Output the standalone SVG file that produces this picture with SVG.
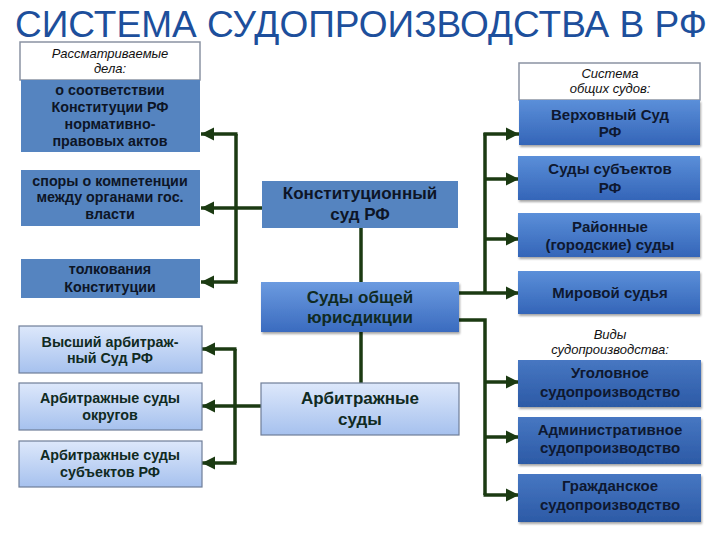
<svg xmlns="http://www.w3.org/2000/svg" width="720" height="540" viewBox="0 0 720 540">
<defs>
<style>
.t{font-family:"Liberation Sans","Open Sans",sans-serif;text-anchor:middle;font-weight:bold}
.flat{fill:#5584c0}
.dk{fill:#0d1526;font-size:14.3px}
.big{font-size:17px}
.gen{fill:#102a22}
.rt{fill:#0e1830;font-size:15px}
.it{font-style:italic;font-weight:normal;fill:#111;font-size:13px}
.wbox{fill:#fff;stroke:#8a93a3;stroke-width:1.5}
.conn path{fill:none;stroke:#1b3a12;stroke-width:3.5}
.conn .a{marker-end:url(#ah)}
</style>
<linearGradient id="gBlue" x1="0" y1="0" x2="0" y2="1"><stop offset="0" stop-color="#6c9be0"/><stop offset="1" stop-color="#3a6bbf"/></linearGradient>
<linearGradient id="gDark" x1="0" y1="0" x2="0" y2="1"><stop offset="0" stop-color="#4777c2"/><stop offset="1" stop-color="#2c5aa6"/></linearGradient>
<linearGradient id="gMid" x1="0" y1="0" x2="0" y2="1"><stop offset="0" stop-color="#5b8fd9"/><stop offset="1" stop-color="#3465b8"/></linearGradient>
<linearGradient id="gLight" x1="0" y1="0" x2="0" y2="1"><stop offset="0" stop-color="#dde8fb"/><stop offset="1" stop-color="#a6c1ee"/></linearGradient>
<marker id="ah" viewBox="0 0 10 10" refX="10" refY="5" markerWidth="13" markerHeight="14" markerUnits="userSpaceOnUse" orient="auto"><path d="M0,0 L10,5 L0,10 z" fill="#1b3a12"/></marker>
<filter id="sh" x="-5%" y="-10%" width="110%" height="130%"><feDropShadow dx="1" dy="2" stdDeviation="1.2" flood-color="#000" flood-opacity="0.35"/></filter>
</defs>
<rect width="720" height="540" fill="#fff"/>
<text x="361" y="37" font-family="'Liberation Sans','Open Sans',sans-serif" font-size="37" fill="#1d4f9c" text-anchor="middle" textLength="692" lengthAdjust="spacingAndGlyphs">СИСТЕМА СУДОПРОИЗВОДСТВА В РФ</text>

<g class="conn">
<path d="M236,282 V134"/>
<path class="a" d="M237.5,134 H201"/>
<path class="a" d="M262,208 H201"/>
<path class="a" d="M237.5,282 H201"/>
<path d="M361,228 V282"/>
<path d="M361,332 V383"/>
<path d="M485,133 V293"/>
<path class="a" d="M483.5,134 H519"/>
<path class="a" d="M485,179 H519"/>
<path class="a" d="M485,239 H519"/>
<path class="a" d="M459,293 H519"/>
<path d="M459,320 H485 V495"/>
<path class="a" d="M485,382 H519"/>
<path class="a" d="M485,437 H519"/>
<path class="a" d="M483.5,495 H519"/>
<path d="M235,349 V463"/>
<path class="a" d="M236.5,349 H202"/>
<path class="a" d="M261,406 H202"/>
<path class="a" d="M236.5,463 H202"/>
</g>

<g id="cases-header"><rect class="wbox" x="20" y="42" width="180" height="38"/>
<text class="t it" x="110" y="58">Рассматриваемые</text><text class="t it" x="110" y="73">дела:</text></g>
<g id="case1"><rect class="flat" x="21" y="80" width="179" height="72"/>
<text class="t dk" x="110" y="95">о соответствии</text><text class="t dk" x="110" y="112">Конституции РФ</text><text class="t dk" x="110" y="129">нормативно-</text><text class="t dk" x="110" y="146">правовых актов</text></g>
<g id="case2"><rect class="flat" x="21" y="170" width="179" height="56"/>
<text class="t dk" x="110" y="186">споры о компетенции</text><text class="t dk" x="110" y="202">между органами гос.</text><text class="t dk" x="110" y="219">власти</text></g>
<g id="case3"><rect class="flat" x="21" y="259" width="179" height="39"/>
<text class="t dk" x="110" y="274">толкования</text><text class="t dk" x="110" y="292">Конституции</text></g>

<g id="const-court"><rect class="flat" x="262" y="181" width="196" height="47"/>
<text class="t dk big" x="360" y="199">Конституционный</text><text class="t dk big" x="360" y="220">суд РФ</text></g>
<g id="general-courts"><rect x="261" y="282" width="198" height="50" fill="url(#gBlue)" filter="url(#sh)"/>
<text class="t gen big" x="360" y="303">Суды общей</text><text class="t gen big" x="360" y="323">юрисдикции</text></g>
<g id="arb-courts"><rect x="261" y="383" width="198" height="52" fill="url(#gLight)" stroke="#6f7e98" stroke-width="1.2"/>
<text class="t gen big" x="360" y="404">Арбитражные</text><text class="t gen big" x="360" y="425">суды</text></g>

<g id="arb1"><rect x="19" y="326" width="183" height="47" fill="url(#gLight)" stroke="#6f7e98" stroke-width="1.2"/>
<text class="t gen" font-size="14.3" x="110" y="347">Высший арбитраж-</text><text class="t gen" font-size="14.3" x="110" y="363">ный Суд РФ</text></g>
<g id="arb2"><rect x="19" y="383" width="183" height="47" fill="url(#gLight)" stroke="#6f7e98" stroke-width="1.2"/>
<text class="t gen" font-size="14.3" x="110" y="403">Арбитражные суды</text><text class="t gen" font-size="14.3" x="110" y="420">округов</text></g>
<g id="arb3"><rect x="19" y="441" width="183" height="46" fill="url(#gLight)" stroke="#6f7e98" stroke-width="1.2"/>
<text class="t gen" font-size="14.3" x="110" y="460">Арбитражные суды</text><text class="t gen" font-size="14.3" x="110" y="477">субъектов РФ</text></g>

<g id="gen-header"><rect class="wbox" x="519" y="63" width="181" height="37"/>
<text class="t it" x="610" y="78">Система</text><text class="t it" x="610" y="93">общих судов:</text></g>
<g id="supreme"><rect x="519" y="100" width="181" height="45" fill="url(#gMid)" filter="url(#sh)"/>
<text class="t rt" x="610" y="120">Верховный Суд</text><text class="t rt" x="610" y="137">РФ</text></g>
<g id="subject-courts"><rect x="518" y="156" width="182" height="44" fill="url(#gMid)" filter="url(#sh)"/>
<text class="t rt" x="610" y="174">Суды субъектов</text><text class="t rt" x="610" y="193">РФ</text></g>
<g id="district-courts"><rect x="518" y="213" width="182" height="44" fill="url(#gMid)" filter="url(#sh)"/>
<text class="t rt" x="610" y="232">Районные</text><text class="t rt" x="610" y="250">(городские) суды</text></g>
<g id="magistrate"><rect x="518" y="271" width="182" height="43" fill="url(#gMid)" filter="url(#sh)"/>
<text class="t rt" x="610" y="298">Мировой судья</text></g>

<g id="proc-header"><text class="t it" x="610" y="339">Виды</text><text class="t it" x="610" y="354">судопроизводства:</text></g>
<g id="criminal"><rect x="518" y="360" width="183" height="47" fill="url(#gDark)" filter="url(#sh)"/>
<text class="t rt" x="610" y="378">Уголовное</text><text class="t rt" x="610" y="397">судопроизводство</text></g>
<g id="admin"><rect x="518" y="417" width="183" height="47" fill="url(#gDark)" filter="url(#sh)"/>
<text class="t rt" x="610" y="435">Административное</text><text class="t rt" x="610" y="453">судопроизводство</text></g>
<g id="civil"><rect x="518" y="474" width="183" height="48" fill="url(#gDark)" filter="url(#sh)"/>
<text class="t rt" x="610" y="491">Гражданское</text><text class="t rt" x="610" y="510">судопроизводство</text></g>
</svg>
